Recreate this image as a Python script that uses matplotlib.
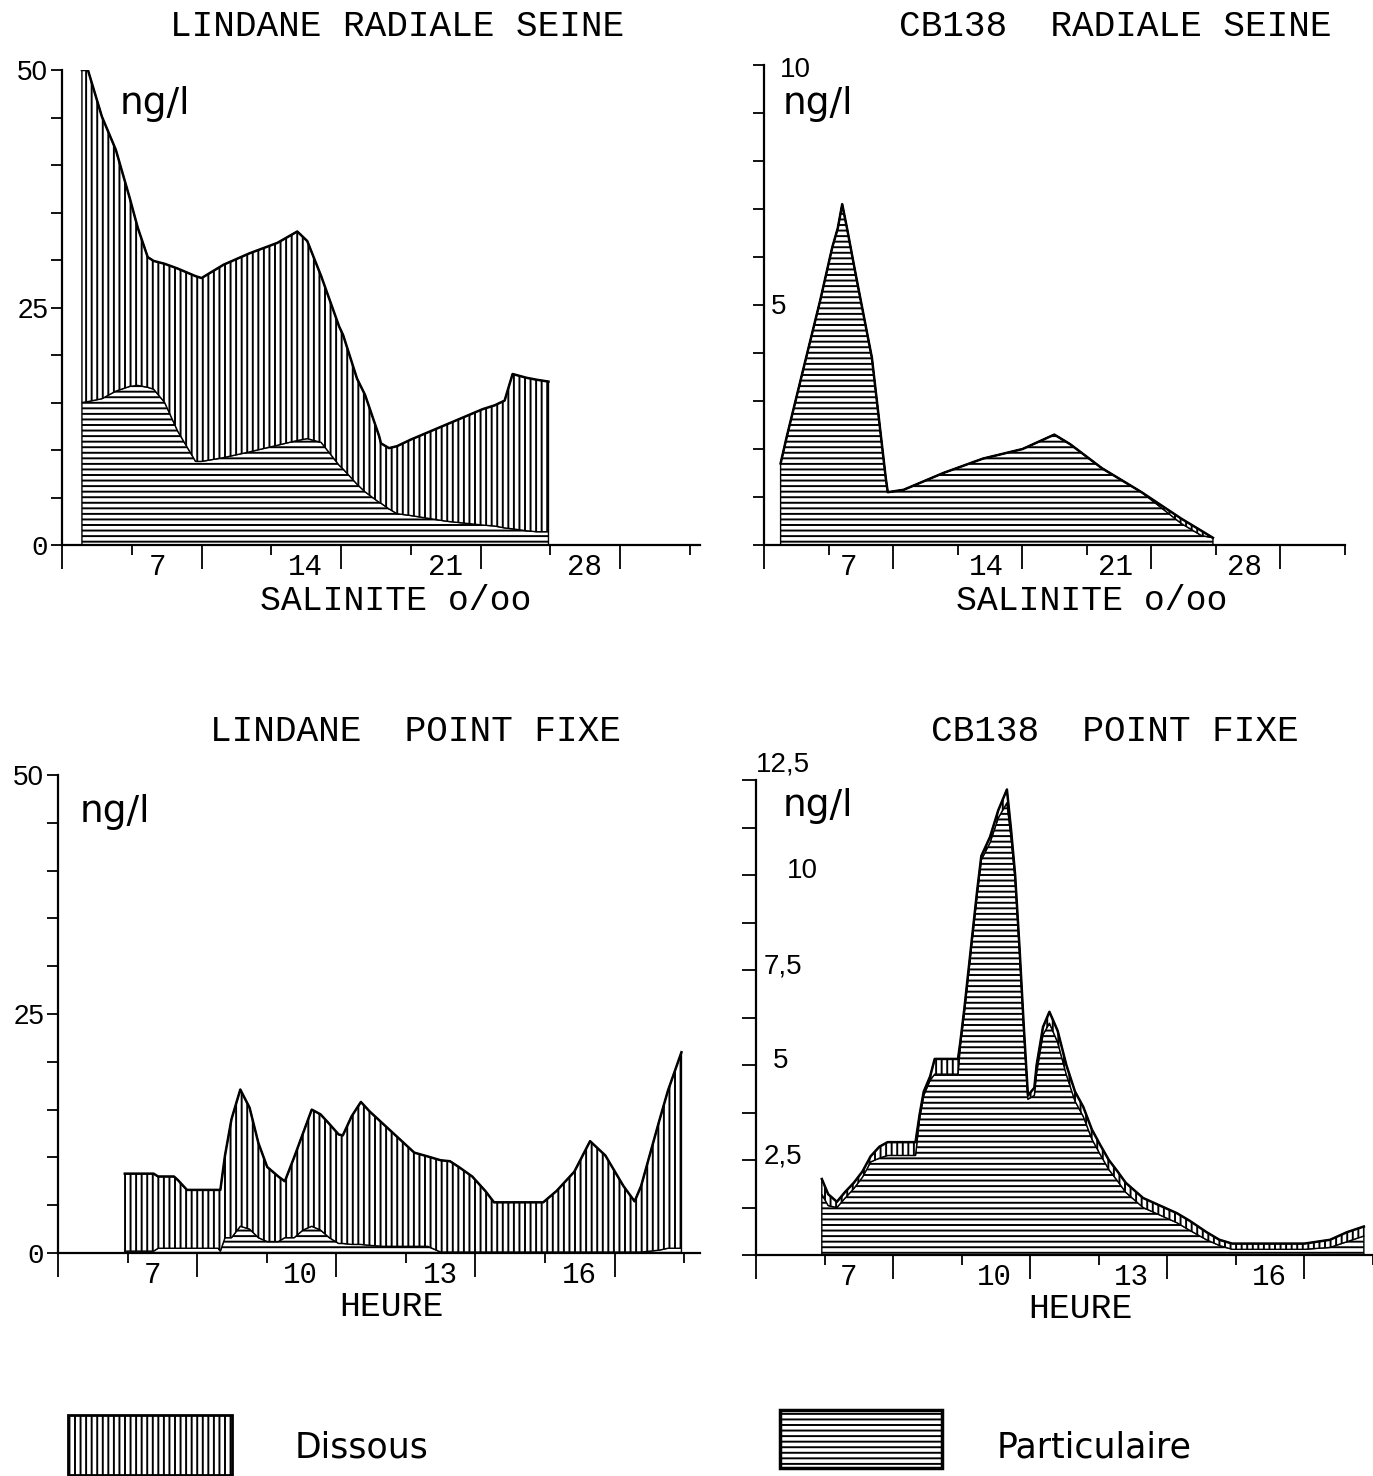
import matplotlib.pyplot as plt
import matplotlib.transforms as mtransforms
from matplotlib.patches import Rectangle

plt.rcParams['hatch.linewidth'] = 1.4
plt.rcParams['font.family'] = ['Liberation Sans', 'DejaVu Sans']
MONO = ['Liberation Mono', 'DejaVu Sans Mono']

# --- LINDANE radiale Seine (x = salinite o/oo) ---
lr_x = [1.0, 1.3, 2.0, 2.7, 3.4, 3.8, 4.3, 4.6, 5.15, 5.8, 6.7, 7.0, 8.1, 9.4,
        10.8, 11.8, 12.3, 13.0, 13.9, 14.1, 14.8, 15.2, 15.9, 16.0, 16.4, 16.8,
        17.5, 19.3, 21.1, 21.7, 22.2, 22.6, 23.3, 23.8, 24.4]
lr_total = [50, 50, 45.1, 41.6, 36.5, 33.4, 30.3, 29.9, 29.6, 29.1, 28.3, 28.1,
            29.5, 30.7, 31.8, 33.0, 32.0, 28.3, 23.0, 22.1, 17.5, 15.8, 11.5,
            10.7, 10.2, 10.4, 11.1, 12.7, 14.3, 14.7, 15.2, 18.0, 17.6, 17.4, 17.2]
lr_part = [15.0, 15.1, 15.4, 16.2, 16.7, 16.8, 16.6, 16.4, 15.0, 12.0, 8.8, 8.8,
           9.2, 9.8, 10.5, 11.0, 11.2, 10.8, 8.4, 8.0, 6.4, 5.6, 4.5, 4.4, 3.8,
           3.3, 3.1, 2.5, 2.1, 2.0, 1.8, 1.7, 1.5, 1.4, 1.4]

# --- CB138 radiale Seine ---
cr_x = [0.9, 1.23, 2.09, 3.05, 3.7, 4.0, 4.24, 4.5, 4.99, 5.85, 6.6, 6.71, 7.57,
        9.72, 11.87, 14.02, 15.74, 16.6, 18.32, 20.47, 22.62, 23.7, 24.34]
cr_total = [1.7, 2.25, 3.6, 5.1, 6.2, 6.6, 7.1, 6.6, 5.6, 3.9, 1.4, 1.1, 1.15,
            1.5, 1.8, 2.0, 2.3, 2.1, 1.6, 1.1, 0.55, 0.3, 0.15]
cr_part = [1.7, 2.25, 3.6, 5.1, 6.2, 6.6, 7.1, 6.6, 5.6, 3.9, 1.4, 1.1, 1.15,
           1.5, 1.8, 2.0, 2.3, 2.1, 1.6, 1.1, 0.45, 0.2, 0.15]

# --- LINDANE point fixe (x = heure) ---
lp_x = [5.44, 6.06, 6.16, 6.5, 6.59, 6.78, 7.45, 7.5, 7.6, 7.74, 7.93, 8.13,
        8.32, 8.51, 8.75, 8.89, 9.09, 9.28, 9.47, 9.66, 9.85, 10.05, 10.14,
        10.33, 10.53, 10.72, 11.01, 11.39, 11.68, 11.97, 12.25, 12.45, 12.64,
        12.93, 13.21, 13.4, 14.46, 14.75, 15.13, 15.47, 15.8, 16.19, 16.43,
        16.57, 16.96, 17.15, 17.44]
lp_total = [8.3, 8.3, 8.0, 8.0, 7.6, 6.6, 6.6, 6.6, 10.2, 14.0, 17.1, 15.2,
            11.5, 9.0, 8.0, 7.5, 10.0, 12.5, 15.0, 14.5, 13.5, 12.4, 12.3,
            14.3, 15.8, 14.8, 13.5, 11.8, 10.5, 10.1, 9.7, 9.6, 9.0, 8.0, 6.5,
            5.3, 5.3, 6.5, 8.5, 11.7, 10.2, 7.0, 5.4, 7.0, 13.8, 17.0, 21.0]
lp_part = [0.2, 0.2, 0.5, 0.5, 0.5, 0.5, 0.5, 0.2, 1.6, 1.6, 2.8, 2.5, 1.6, 1.2,
           1.2, 1.6, 1.6, 2.4, 2.8, 2.4, 1.6, 1.0, 1.0, 0.9, 0.9, 0.8, 0.7, 0.7,
           0.7, 0.7, 0.1, 0.1, 0.1, 0.1, 0.1, 0.1, 0.1, 0.1, 0.1, 0.1, 0.1, 0.1,
           0.1, 0.1, 0.3, 0.5, 0.5]

# --- CB138 point fixe ---
cp_x = [5.44, 5.58, 5.77, 5.95, 6.14, 6.33, 6.51, 6.7, 6.88, 7.49, 7.58, 7.67,
        7.81, 7.91, 8.42, 8.47, 8.56, 8.65, 8.74, 8.84, 8.93, 9.12, 9.3, 9.49,
        9.58, 9.67, 9.77, 9.86, 9.95, 10.09, 10.14, 10.28, 10.42, 10.6, 10.79,
        10.98, 11.16, 11.35, 11.53, 11.72, 11.91, 12.09, 12.28, 12.47, 12.84,
        13.21, 13.49, 13.86, 14.14, 14.42, 16.0, 16.56, 16.93, 17.3]
cp_total = [2.0, 1.6, 1.4, 1.66, 1.9, 2.2, 2.6, 2.85, 2.97, 2.97, 3.7, 4.3, 4.7,
            5.16, 5.16, 5.6, 6.5, 7.5, 8.5, 9.6, 10.5, 11.0, 11.7, 12.25, 11.2,
            10.0, 8.0, 6.0, 4.2, 4.4, 5.0, 6.0, 6.4, 5.9, 5.0, 4.3, 3.9, 3.3,
            2.9, 2.5, 2.2, 1.9, 1.7, 1.5, 1.3, 1.1, 0.9, 0.6, 0.4, 0.3, 0.3,
            0.4, 0.6, 0.75]
cp_part = [1.6, 1.3, 1.25, 1.5, 1.75, 2.05, 2.45, 2.55, 2.62, 2.62, 3.6, 4.2,
           4.6, 4.76, 4.76, 5.5, 6.4, 7.4, 8.4, 9.5, 10.4, 10.85, 11.5, 11.9,
           11.0, 9.9, 7.9, 5.9, 4.1, 4.2, 4.8, 5.8, 6.1, 5.6, 4.75, 4.05, 3.65,
           3.05, 2.65, 2.25, 1.95, 1.65, 1.45, 1.25, 1.05, 0.85, 0.65, 0.4,
           0.25, 0.15, 0.15, 0.2, 0.35, 0.5]

W, H = 1373, 1476
fig = plt.figure(figsize=(W / 100, H / 100), dpi=100)


def rect(left, right, bottom, top):
    return [left / W, 1 - bottom / H, (right - left) / W, (bottom - top) / H]


def ftext(px, py, s, **kw):
    return fig.text(px / W, 1 - py / H, s, **kw)


def panel(r, x, total, part, xlim, xmaj, xlabels, yticks, ylim, tlen=8):
    ax = fig.add_axes(r)
    ax.fill_between(x, 0, part, facecolor='white', edgecolor='black',
                    hatch='---', linewidth=1.0)
    ax.fill_between(x, part, total, facecolor='white', edgecolor='black',
                    hatch='|||', linewidth=1.0)
    ax.plot(x, total, color='black', lw=1.8)
    ax.set_xlim(*xlim)
    ax.set_ylim(*ylim)
    for s in ['top', 'right']:
        ax.spines[s].set_visible(False)
    ax.spines['left'].set_linewidth(1.6)
    ax.spines['bottom'].set_linewidth(1.6)
    step = xmaj[1] - xmaj[0]
    ax.set_xticks([xlim[0]] + xmaj)
    ax.set_xticklabels([''] + xlabels, fontfamily=MONO, fontsize=21, ha='left')
    ax.set_xticks([v - step / 2 for v in xmaj] + [xmaj[-1] + step / 2],
                  minor=True)
    ax.tick_params(axis='x', which='major', length=17, width=1.3, pad=-11)
    ax.tick_params(axis='x', which='minor', length=7, width=1.3)
    shift = mtransforms.ScaledTranslation(-0.53, 0, fig.dpi_scale_trans)
    for lab in ax.get_xticklabels():
        lab.set_transform(lab.get_transform() + shift)
    ax.set_yticks(yticks)
    ax.tick_params(axis='y', length=tlen, width=1.3, pad=2, labelsize=20)
    return ax


NG = dict(fontsize=27, va='center', ha='left', family=['DejaVu Sans'])
TT = dict(fontsize=26, va='center', ha='center', family=MONO)
XL = dict(fontsize=25, va='center', ha='center', family=MONO)

# LINDANE radiale
ax1 = panel(rect(62, 700, 545, 70), lr_x, lr_total, lr_part, (0, 32.0),
            [7, 14, 21, 28], ['7', '14', '21', '28'], range(0, 51, 5), (0, 50))
ax1.set_yticklabels(['0' if v == 0 else str(v) if v in (25, 50) else ''
                     for v in range(0, 51, 5)])
ax1.get_yticklabels()[0].set_fontfamily(MONO)
ftext(120, 104, 'ng/l', **NG)
ftext(397, 27, 'LINDANE RADIALE SEINE', **TT)
ftext(396, 601, 'SALINITE o/oo', **XL)

# CB138 radiale
ax2 = panel(rect(764, 1345, 545, 65), cr_x, cr_total, cr_part, (0, 28.9),
            [7, 14, 21, 28], ['7', '14', '21', '28'], range(0, 11), (0, 10))
ax2.set_yticklabels([])
ax2.text(0.027, 9.9, '10', transform=ax2.get_yaxis_transform(), fontsize=20,
         va='center', ha='left')
ax2.text(0.012, 4.95, '5', transform=ax2.get_yaxis_transform(), fontsize=20,
         va='center', ha='left')
ftext(783, 104, 'ng/l', **NG)
ftext(1115, 27, 'CB138  RADIALE SEINE', **TT)
ftext(1092, 601, 'SALINITE o/oo', **XL)

# LINDANE point fixe
ax3 = panel(rect(58, 700, 1253, 775), lp_x, lp_total, lp_part, (4, 17.84),
            [7, 10, 13, 16], ['7', '10', '13', '16'], range(0, 51, 5), (0, 50))
ax3.set_yticklabels(['0' if v == 0 else str(v) if v in (25, 50) else ''
                     for v in range(0, 51, 5)])
ax3.get_yticklabels()[0].set_fontfamily(MONO)
ftext(80, 812, 'ng/l', **NG)
ftext(415, 732, 'LINDANE  POINT FIXE', **TT)
ftext(391, 1307, 'HEURE', **XL)

# CB138 point fixe
bt = [i * 1.25 for i in range(11)]
ax4 = panel(rect(756, 1373, 1255, 780), cp_x, cp_total, cp_part, (4, 17.2),
            [7, 10, 13, 16], ['7', '10', '13', '16'], bt, (0, 12.5), tlen=10)
ax4.set_yticklabels([])
for yv, lab, dx in [(12.9, '12,5', 0.0), (10.1, '10', 0.05), (7.6, '7,5', 0.012),
                    (5.1, '5', 0.028), (2.6, '2,5', 0.012)]:
    ax4.text(dx, yv, lab, transform=ax4.get_yaxis_transform(), fontsize=20,
             va='center', ha='left', clip_on=False)
ftext(783, 806, 'ng/l', **NG)
ftext(1115, 732, 'CB138  POINT FIXE', **TT)
ftext(1080, 1309, 'HEURE', **XL)

# legend boxes
fig.add_artist(Rectangle((68 / W, 1 - 1475 / H), 164 / W, 60 / H,
                         transform=fig.transFigure, facecolor='white',
                         edgecolor='black', hatch='|||', linewidth=2))
fig.add_artist(Rectangle((780 / W, 1 - 1468 / H), 162 / W, 58 / H,
                         transform=fig.transFigure, facecolor='white',
                         edgecolor='black', hatch='---', linewidth=2.5))
ftext(295, 1447, 'Dissous', fontsize=25, va='center', ha='left',
      family=['DejaVu Sans'])
ftext(997, 1447, 'Particulaire', fontsize=25, va='center', ha='left',
      family=['DejaVu Sans'])

fig.savefig('out.png', dpi=100, facecolor='white')
